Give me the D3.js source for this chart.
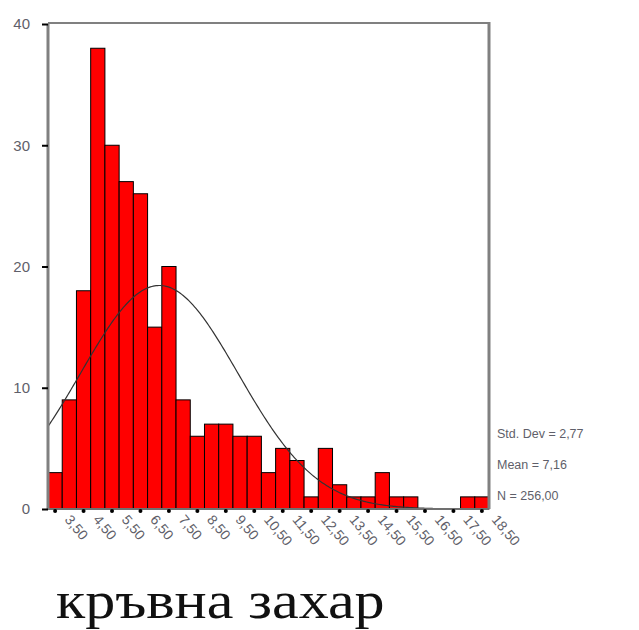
<!DOCTYPE html>
<html>
<head>
<meta charset="utf-8">
<script src="https://d3js.org/d3.v7.min.js"></script>
<style>

body {
  margin: 0;
  background: #fff;
}

.ylab, .xlab, .stat {
  font-family: "Liberation Sans", Arial, sans-serif;
  fill: #5f5f6a;
}

.title {
  font-family: "Liberation Serif", "Times New Roman", serif;
  fill: #111;
}

</style>
</head>
<body>
<script>

// histogram of blood sugar, bins of width 0,5
var binCenters = [3.5, 4, 4.5, 5, 5.5, 6, 6.5, 7, 7.5, 8, 8.5, 9, 9.5, 10, 10.5, 11,
                  11.5, 12, 12.5, 13, 13.5, 14, 14.5, 15, 15.5, 16, 16.5, 17, 17.5, 18, 18.5];
var counts = [3, 9, 18, 38, 30, 27, 26, 15, 20, 9, 6, 7, 7, 6, 6, 3,
              5, 4, 1, 5, 2, 1, 1, 3, 1, 1, 0, 0, 0, 1, 1];
var binWidth = 0.5;

var xTicks = [3.5, 4.5, 5.5, 6.5, 7.5, 8.5, 9.5, 10.5, 11.5, 12.5, 13.5, 14.5, 15.5, 16.5, 17.5, 18.5];
var xTickLabels = ["3,50", "4,50", "5,50", "6,50", "7,50", "8,50", "9,50", "10,50", "11,50",
                   "12,50", "13,50", "14,50", "15,50", "16,50", "17,50", "18,50"];
var yTicks = [0, 10, 20, 30, 40];

// stats shown next to the plot, the normal curve is drawn from them
var stdDev = 2.77, mean = 7.16, total = 256;
var statLabels = ["Std. Dev = 2,77", "Mean = 7,16", "N = 256,00"];
var title = "кръвна захар";

var svg = d3.select("body").append("svg")
    .attr("width", 639)
    .attr("height", 630);

var x = d3.scaleLinear()
	.domain([3.25, 18.75])
	.range([48, 489]);

var y = d3.scaleLinear()
	.domain([0, 40])
	.range([509, 24]);

// bars
svg.append("g")
  .selectAll("rect")
	.data(binCenters)
  .enter().append("rect")
	.filter(function(d, i) { return counts[i] > 0; })
	.attr("x", function(d) { return x(d - binWidth / 2); })
	.attr("width", function(d) { return x(d + binWidth / 2) - x(d - binWidth / 2); })
	.attr("y", function(d) { return y(counts[binCenters.indexOf(d)]); })
	.attr("height", function(d) { return y(0) - y(counts[binCenters.indexOf(d)]); })
	.style("fill", "#ff0000")
	.style("stroke", "#000")
	.style("stroke-width", 1);

// normal curve
var dens = function(v) {
	var z = (v - mean) / stdDev;
	return total * binWidth * Math.exp(-0.5 * z * z) / (stdDev * Math.sqrt(2 * Math.PI));
};
var curveX = d3.range(3.25, 18.76, 0.05);

svg.append("path")
	.datum(curveX)
	.attr("d", d3.line()
		.x(function(d) { return x(d); })
		.y(function(d) { return y(dens(d)); }))
	.style("fill", "none")
	.style("stroke", "#333")
	.style("stroke-width", 1.2);

// frame
svg.append("line")
	.attr("x1", x(3.25)).attr("x2", x(18.75))
	.attr("y1", y(40) - 1).attr("y2", y(40) - 1)
	.style("stroke", "#808080").style("stroke-width", 2);
svg.append("line")
	.attr("x1", x(18.75)).attr("x2", x(18.75))
	.attr("y1", y(40) - 2).attr("y2", y(0))
	.style("stroke", "#808080").style("stroke-width", 3);
svg.append("line")
	.attr("x1", x(3.25)).attr("x2", x(18.75))
	.attr("y1", y(0)).attr("y2", y(0))
	.style("stroke", "#707070").style("stroke-width", 2);

// y axis
var yAxis = d3.axisLeft(y)
	.tickValues(yTicks)
	.tickSize(6)
	.tickPadding(12);

var gy = svg.append("g")
	.attr("transform", "translate(" + x(3.25) + ",0)")
	.call(yAxis);
gy.select(".domain")
	.attr("d", "M0," + y(40) + "V" + y(0))
	.style("stroke", "#808080")
	.style("stroke-width", 3);
gy.selectAll(".tick line")
	.style("stroke", "#000")
	.style("stroke-width", 2);
gy.selectAll(".tick text")
	.attr("class", "ylab")
	.style("font-size", "15px");

// x axis: dots at the ticks and slanted labels
var gx = svg.append("g");
gx.selectAll("circle")
	.data(xTicks)
  .enter().append("circle")
	.attr("cx", function(d) { return x(d); })
	.attr("cy", y(0) + 2)
	.attr("r", 2)
	.style("fill", "#000");

gx.selectAll("text")
	.data(xTicks)
  .enter().append("text")
	.attr("class", "xlab")
	.attr("transform", function(d) { return "translate(" + (x(d) + 9) + "," + (y(0) + 11) + ") rotate(50)"; })
	.style("font-size", "14px")
	.text(function(d, i) { return xTickLabels[i]; });

// stats
svg.append("g")
  .selectAll("text")
	.data(statLabels)
  .enter().append("text")
	.attr("class", "stat")
	.attr("x", 497)
	.attr("y", function(d, i) { return 438 + i * 31; })
	.style("font-size", "12.5px")
	.text(function(d) { return d; });

svg.append("text")
	.attr("class", "title")
	.attr("transform", "translate(56,618) scale(1.155,1)")
	.style("font-size", "52px")
	.text(title);

</script>
</body>
</html>
